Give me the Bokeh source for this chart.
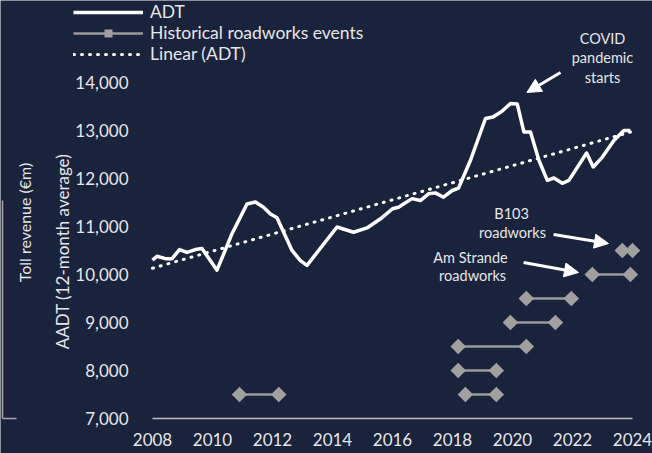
import math
from bokeh.plotting import figure
from bokeh.models import (ColumnDataSource, FixedTicker, NumeralTickFormatter, LinearAxis,
                          Legend, LegendItem, Label, Arrow, NormalHead, Range1d)
from bokeh.embed import file_html
from bokeh.resources import INLINE

# ---- data ----
adt_years = [2008.0, 2008.15, 2008.43, 2008.65, 2008.9, 2009.15, 2009.43, 2009.65, 2010.15,
             2010.65, 2011.15, 2011.43, 2011.7, 2011.93, 2012.15, 2012.65, 2012.93, 2013.15,
             2014.15, 2014.7, 2015.15, 2015.6, 2016.0, 2016.2, 2016.65, 2016.93, 2017.2,
             2017.43, 2017.7, 2017.99, 2018.2, 2018.6, 2019.1, 2019.35, 2019.65, 2019.93,
             2020.16, 2020.38, 2020.6, 2020.88, 2021.16, 2021.38, 2021.66, 2021.88, 2022.47,
             2022.69, 2022.99, 2023.38, 2023.71, 2023.93]
adt_values = [10300, 10380, 10330, 10330, 10520, 10460, 10520, 10540, 10090,
              10850, 11470, 11510, 11400, 11260, 11180, 10500, 10290, 10190,
              10990, 10880, 10970, 11160, 11370, 11400, 11580, 11540, 11680,
              11700, 11610, 11750, 11800, 12380, 13250, 13280, 13400, 13560,
              13550, 12970, 12970, 12380, 11960, 12010, 11900, 11960, 12530,
              12240, 12440, 12790, 13000, 13000]

trend_years = [2008, 2024]
trend_values = [10130, 12980]

event_start = [2010.9, 2018.43, 2018.19, 2018.19, 2019.93, 2020.46, 2022.66, 2023.66]
event_end = [2012.21, 2019.46, 2019.46, 2020.46, 2021.43, 2021.96, 2023.93, 2024.0]
event_level = [7500, 7500, 8000, 8500, 9000, 9500, 10000, 10500]

x_ticks = [2008, 2010, 2012, 2014, 2016, 2018, 2020, 2022, 2024]
y_ticks = [7000, 8000, 9000, 10000, 11000, 12000, 13000, 14000]

# annotation texts and positions (data units)
note_texts = ["COVID", "pandemic", "starts", "B103", "roadworks", "Am Strande", "roadworks"]
note_x = [2023.0, 2023.0, 2023.0, 2019.97, 2020.0, 2018.6, 2018.67]
note_y = [14917, 14521, 14104, 11271, 10875, 10354, 9979]
arrow_x0 = [2021.6, 2021.37, 2020.37]
arrow_y0 = [14208, 10833, 10250]
arrow_x1 = [2020.48, 2023.2, 2022.2]
arrow_y1 = [13792, 10646, 10042]

# axis titles (the left one belongs to a neighbouring, cropped chart)
title_texts = ["AADT (12-month average)", "Toll revenue (€m)"]
title_x = [2005.0, 2003.73]
title_y = [10480, 11083]
title_sizes = ["17px", "16px"]

BG = "#1a233c"
TXT = "#e6e6e6"
GREY = "#a0a0a0"
FONT = "Lato"

p = figure(width=652, height=453, output_backend="svg", toolbar_location=None,
           x_range=Range1d(2008 - 152 / 30, 2024 + 20 / 30),
           y_range=Range1d(7000 - 35 / 48 * 1000, 15708),
           min_border_left=0, min_border_right=0, min_border_top=0, min_border_bottom=0)
p.background_fill_color = BG
p.border_fill_color = BG
p.outline_line_color = None
p.xgrid.visible = False
p.ygrid.visible = False

# x axis, drawn at y = 7000 inside the frame
xa = p.xaxis[0]
xa.fixed_location = 7000
xa.ticker = FixedTicker(ticks=x_ticks)
xa.bounds = (2008, 2024)
xa.axis_line_color = "#bfbfbf"
xa.axis_line_width = 1.5
xa.major_tick_line_color = None
xa.minor_tick_line_color = None
xa.major_tick_out = 0
xa.major_tick_in = 0
xa.major_label_standoff = 15
xa.major_label_text_font = FONT
xa.major_label_text_font_size = "17px"
xa.major_label_text_color = TXT

# main y axis, drawn at x = 2008 inside the frame
ya = p.yaxis[0]
ya.fixed_location = 2008
ya.ticker = FixedTicker(ticks=y_ticks)
ya.formatter = NumeralTickFormatter(format="0,0")
ya.axis_line_color = None
ya.major_tick_line_color = None
ya.minor_tick_line_color = None
ya.major_tick_out = 0
ya.major_tick_in = 0
ya.major_label_standoff = 24
ya.major_label_text_font = FONT
ya.major_label_text_font_size = "17px"
ya.major_label_text_color = TXT

# bracket of the cropped neighbouring chart
bracket = LinearAxis(fixed_location=2008 - 150 / 30, ticker=FixedTicker(ticks=[7000]),
                     bounds=(7000, 11542),
                     axis_line_color="#a6a6a6", axis_line_width=1.5,
                     major_tick_line_color="#a6a6a6", major_tick_line_width=1.5,
                     minor_tick_line_color=None, major_tick_in=14, major_tick_out=0,
                     major_label_standoff=0, major_label_overrides={7000: ""},
                     major_label_text_font_size="1px")
p.add_layout(bracket, "left")

# glyphs
ev = ColumnDataSource(dict(x0=event_start, x1=event_end, y=event_level))
r_seg = p.segment(x0="x0", y0="y", x1="x1", y1="y", source=ev, line_color="#9a9a9a", line_width=2.5)
pts = ColumnDataSource(dict(x=event_start + event_end, y=event_level + event_level))
r_pts = p.scatter(x="x", y="y", source=pts, marker="square", angle=math.pi / 4, size=11,
                  fill_color=GREY, line_color=None)

r_trend = p.line(trend_years, trend_values, line_color="white", line_width=3,
                 line_dash="1 7", line_cap="round")

adt = ColumnDataSource(dict(year=adt_years, adt=adt_values))
r_adt = p.line(x="year", y="adt", source=adt, line_color="white", line_width=3.5, line_join="round")

# annotations
for t, x, y in zip(note_texts, note_x, note_y):
    p.add_layout(Label(x=x, y=y, text=t, text_align="center", text_baseline="middle",
                       text_font=FONT, text_font_size="14.5px", text_color=TXT))
for x0, y0, x1, y1 in zip(arrow_x0, arrow_y0, arrow_x1, arrow_y1):
    p.add_layout(Arrow(end=NormalHead(size=14, fill_color="white", line_color="white"),
                       x_start=x0, y_start=y0, x_end=x1, y_end=y1,
                       line_color="white", line_width=3))
for t, x, y, s in zip(title_texts, title_x, title_y, title_sizes):
    p.add_layout(Label(x=x, y=y, text=t, angle=math.pi / 2, text_align="center",
                       text_baseline="middle", text_font=FONT, text_font_size=s,
                       text_color=TXT))

legend = Legend(items=[LegendItem(label="ADT", renderers=[r_adt]),
                       LegendItem(label="Historical roadworks events", renderers=[r_seg, r_pts]),
                       LegendItem(label="Linear (ADT)", renderers=[r_trend])],
                location=(73, 389), glyph_width=70, glyph_height=20, label_height=20,
                spacing=0, padding=0, margin=0, label_standoff=7,
                label_text_font=FONT, label_text_font_size="17.5px", label_text_color=TXT,
                background_fill_alpha=0, border_line_alpha=0)
p.add_layout(legend)

open("out.html", "w").write(file_html(p, INLINE))
